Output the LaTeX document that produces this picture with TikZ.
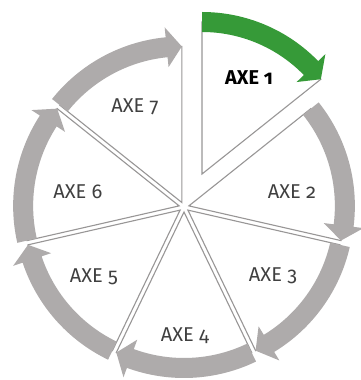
\documentclass[tikz,border=0pt]{standalone}
\usepackage{fontspec}
\setmainfont{Fira Sans}[Numbers=OldStyle]
\usetikzlibrary{calc}
\definecolor{bandgray}{RGB}{174,171,171}
\definecolor{linegray}{RGB}{152,150,150}
\definecolor{axegreen}{RGB}{54,154,56}
\tikzset{
  sectorline/.style={draw=linegray, line width=1.1pt, fill=white},
  axelabel/.style={font=\fontsize{20}{24}\selectfont, anchor=base, text=black!75},
}
% curved band with a head: vertex, start angle, end angle, radius, colour
\newcommand{\cyclearrow}[5]{%
  \pgfmathsetmacro\hb{#3+5.6}
  \pgfmathsetmacro\ro{#4+10}
  \pgfmathsetmacro\ri{#4-10}
  \pgfmathsetmacro\bo{#4+20}
  \pgfmathsetmacro\bi{#4-20}
  \fill[#5] ($(#1)+(#2:\ro)$) arc[start angle=#2, end angle=\hb, radius=\ro]
    -- ($(#1)+(\hb:\bo)$) -- ($(#1)+(#3:#4)$) -- ($(#1)+(\hb:\bi)$)
    -- ($(#1)+(\hb:\ri)$) arc[start angle=\hb, end angle=#2, radius=\ri] -- cycle;
}
\begin{document}
\begin{tikzpicture}[x=1pt, y=1pt]
\useasboundingbox (0,0) rectangle (361,380);
\coordinate (centre) at (184,173);
% Sector 1 pulled out of the wheel
\coordinate (v1) at (202,206);
\draw[sectorline] (v1) -- ++(90:152) arc[start angle=90, end angle=38.57, radius=152] -- cycle;
% Sectors 2 to 7
\foreach \i in {2,...,7} {
  \pgfmathsetmacro\s{90-(\i-1)*360/7}
  \pgfmathsetmacro\e{\s-360/7}
  \pgfmathsetmacro\m{(\s+\e)/2}
  \coordinate (v\i) at ($(centre)+(\m:5)$);
  \draw[sectorline] (v\i) -- ++(\s:156) arc[start angle=\s, end angle=\e, radius=156] -- cycle;
}
% Arrows round the wheel
\cyclearrow{v1}{90}{38.57}{152}{axegreen}
\foreach \i in {2,...,7} {
  \pgfmathsetmacro\s{90-(\i-1)*360/7}
  \pgfmathsetmacro\e{\s-360/7}
  \cyclearrow{v\i}{\s}{\e}{156}{bandgray}
}
% Labels
\node[axelabel, font=\fontsize{20}{24}\selectfont\bfseries, text=black] (axe1) at (249,295) {AXE 1};
\foreach \i/\x/\y in {2/292/181, 3/273/98, 4/185/38, 5/94/97, 6/78/181, 7/135/267} {
  \node[axelabel] (axe\i) at (\x,\y) {AXE \i};
}
\end{tikzpicture}
\end{document}
